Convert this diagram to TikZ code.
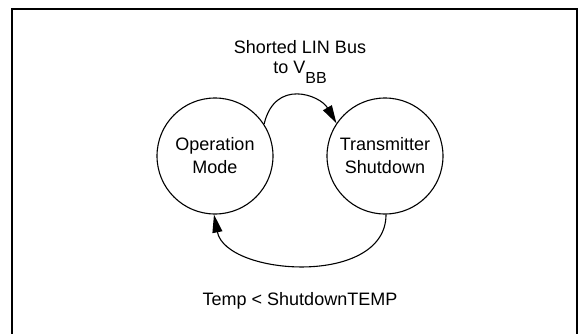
\documentclass[tikz,border=0pt]{standalone}
\usepackage{fontspec}
\setmainfont{Liberation Sans}
\usetikzlibrary{arrows.meta}
\tikzset{
  state/.style={draw, circle, line width=1.1pt, minimum size=116pt, inner sep=0pt, align=center,
    font=\fontsize{18}{23}\selectfont},
  lbl/.style={align=center, inner sep=0pt, font=\fontsize{18}{20}\selectfont},
  trans/.style={line width=1.1pt, -{Triangle[length=18pt,width=10pt]}},
  frame/.style={line width=2pt}
}
\begin{document}
\begin{tikzpicture}[x=1pt,y=-1pt]
\useasboundingbox (0,0) rectangle (584,333);
\draw[frame] (12,340) -- (12,9) -- (577,9) -- (577,340);
\node[state] (L) at (215,156) {Operation\\Mode};
\node[state] (R) at (385,156) {Transmitter\\Shutdown};
\node[lbl, anchor=base] (top) at (300,73) {Shorted LIN Bus\\to V\raisebox{-10pt}{\fontsize{16}{16}\selectfont BB}};
\node[lbl, anchor=base] (bot) at (300,305) {Temp < ShutdownTEMP};
\draw[trans] (L.33) .. controls (275,78) and (320,95) .. (R.146);
\draw[trans] (R.271) .. controls (386,287) and (226,276) .. (L.269);
\end{tikzpicture}
\end{document}
